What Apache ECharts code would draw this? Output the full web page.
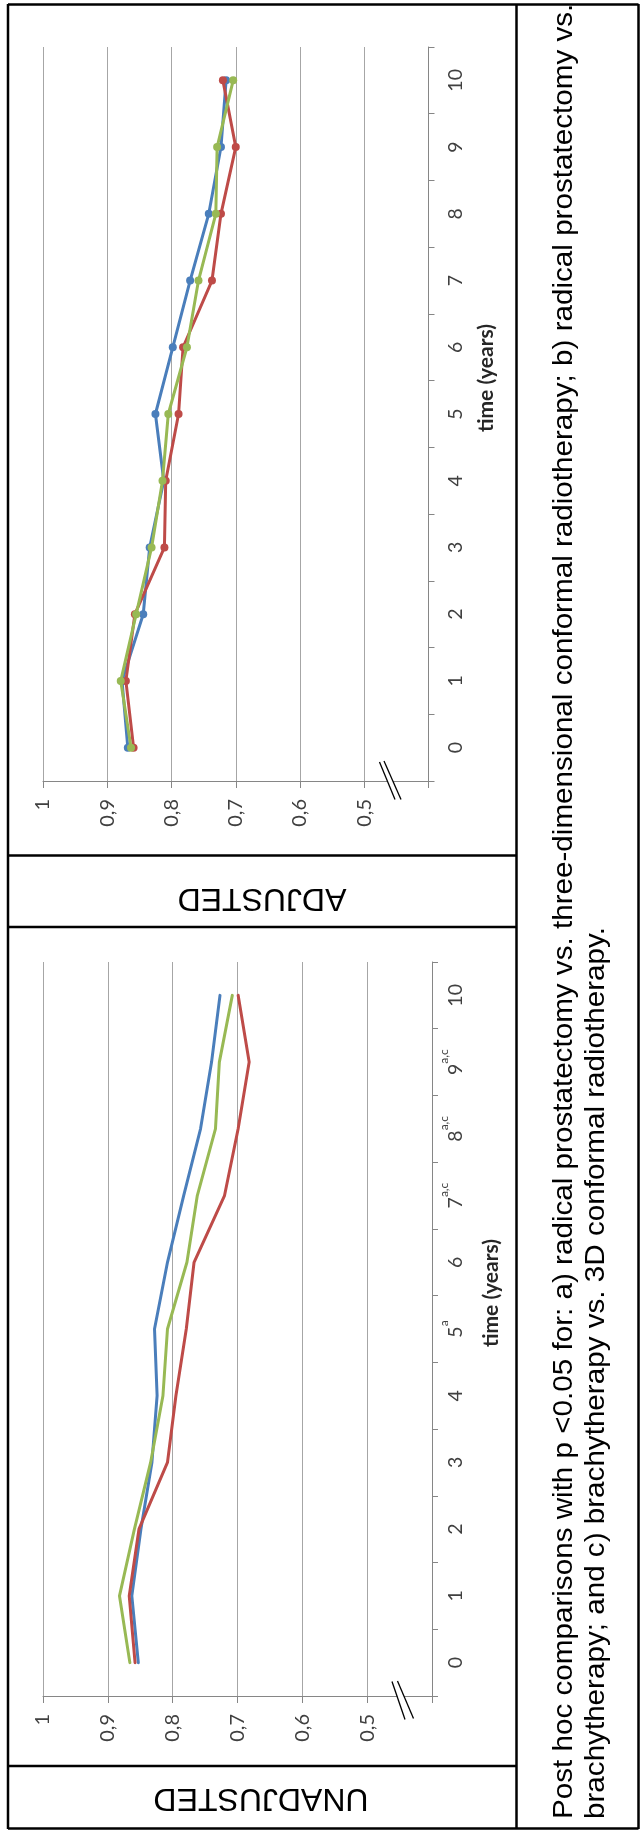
<!DOCTYPE html>
<html>
<head>
<meta charset="utf-8">
<script src="https://cdn.jsdelivr.net/npm/echarts@6/dist/echarts.min.js"></script>
<style>
html,body{margin:0;padding:0;background:#fff;}
#chart{width:641px;height:1830px;}
</style>
</head>
<body>
<div id="chart"></div>
<script>
// ---- data ----
const years = ['0','1','2','3','4','5','6','7','8','9','10'];
const unadjustedSup = ['','','','','','a','','a,c','a,c','a,c',''];
const valueTicks = [0.5, 0.6, 0.7, 0.8, 0.9, 1];
const seriesNames = ['Radical prostatectomy', 'Brachytherapy', '3D conformal radiotherapy'];

const adjustedBlue  = [0.868, 0.877, 0.844, 0.834, 0.812, 0.825, 0.798, 0.771, 0.742, 0.723, 0.715];
const adjustedRed   = [0.859, 0.871, 0.857, 0.811, 0.809, 0.789, 0.782, 0.737, 0.723, 0.700, 0.720];
const adjustedGreen = [0.863, 0.879, 0.855, 0.831, 0.814, 0.805, 0.776, 0.758, 0.731, 0.729, 0.704];

const unadjustedBlue  = [0.853, 0.863, 0.849, 0.832, 0.824, 0.828, 0.808, 0.783, 0.757, 0.740, 0.727];
const unadjustedRed   = [0.858, 0.867, 0.852, 0.808, 0.795, 0.779, 0.767, 0.720, 0.699, 0.682, 0.699];
const unadjustedGreen = [0.866, 0.882, 0.859, 0.834, 0.815, 0.808, 0.778, 0.762, 0.734, 0.728, 0.708];

const axisTitle = 'time (years)';
const panelLabels = ['ADJUSTED', 'UNADJUSTED'];
const captionLines = [
  'Post hoc comparisons with p <0.05 for: a) radical prostatectomy vs. three-dimensional conformal radiotherapy; b) radical prostatectomy vs.',
  'brachytherapy; and c) brachytherapy vs. 3D conformal radiotherapy.'
];

// ---- styles ----
const colors = ['#4A7EBB', '#BE4B48', '#98B954'];
const tickFont = 'Lato, "DejaVu Sans", sans-serif';
const arialFont = '"Liberation Sans", Arial, sans-serif';
const labelColor = '#404040';

function valueFmt(v) {
  const r = Math.round(v * 10) / 10;
  if (valueTicks.indexOf(r) < 0) return '';
  return String(r).replace('.', ',');
}

function valueAxis(gridIndex) {
  return {
    gridIndex, type: 'value', inverse: true, min: 0.4, max: 1, interval: 0.1,
    position: 'bottom',
    axisLine: { show: true, onZero: false, lineStyle: { color: '#868686', width: 1 } },
    axisTick: { show: true, length: 7, lineStyle: { color: '#868686' } },
    splitLine: { show: true, lineStyle: { color: '#a6a6a6', width: 1 } },
    axisLabel: { rotate: 90, margin: 18, fontSize: 20, fontFamily: tickFont, color: labelColor, formatter: valueFmt }
  };
}

function catAxis(gridIndex, sup, nameGap) {
  const lbl = sup
    ? {
        rotate: 90, margin: 10, interval: 0,
        formatter: (v, i) => '{n|' + v + '}' + (sup[i] ? '{s|' + sup[i] + '}' : ''),
        rich: {
          n: { fontSize: 19.5, fontFamily: tickFont, color: labelColor, lineHeight: 20, padding: [7, 0, 0, 0] },
          s: { fontSize: 12, fontFamily: tickFont, color: labelColor, lineHeight: 12, padding: [0, 0, 15, 0] }
        }
      }
    : { rotate: 90, margin: 17, interval: 0, fontSize: 19.5, fontFamily: tickFont, color: labelColor };
  return {
    gridIndex, type: 'category', data: years, position: 'right', boundaryGap: true,
    name: axisTitle, nameLocation: 'middle', nameRotate: 90, nameGap,
    nameTextStyle: { fontSize: 21, fontWeight: 'bold', fontFamily: tickFont, color: '#262626', padding: [0, 0, 0, 72] },
    axisLine: { show: true, onZero: false, lineStyle: { color: '#868686', width: 1 } },
    axisTick: { show: true, length: 6, alignWithLabel: false, interval: 0, lineStyle: { color: '#868686' } },
    splitLine: { show: false },
    axisLabel: lbl
  };
}

function lineSeries(name, data, idx, gridIdx, markers) {
  return {
    name, type: 'line', data, xAxisIndex: gridIdx, yAxisIndex: gridIdx,
    showSymbol: markers, symbol: markers ? 'circle' : 'none', symbolSize: 8,
    itemStyle: { color: colors[idx] },
    lineStyle: { color: colors[idx], width: 3, cap: 'round', join: 'round' },
    emphasis: { disabled: true }, z: 2 + idx
  };
}

const black = '#000';
function hline(x1, x2, y) { return { type: 'line', z: 100, shape: { x1, y1: y, x2, y2: y }, style: { stroke: black, lineWidth: 2.5 } }; }
function vline(x, y1, y2) { return { type: 'line', z: 100, shape: { x1: x, y1, x2: x, y2 }, style: { stroke: black, lineWidth: 2.5 } }; }
function breakMark(a1, a2, b1, b2) {
  return [
    { type: 'polygon', z: 100, shape: { points: [a1, b1, b2, a2] }, style: { fill: '#fff' } },
    { type: 'line', z: 101, shape: { x1: a1[0], y1: a1[1], x2: a2[0], y2: a2[1] }, style: { stroke: black, lineWidth: 1.3 } },
    { type: 'line', z: 101, shape: { x1: b1[0], y1: b1[1], x2: b2[0], y2: b2[1] }, style: { stroke: black, lineWidth: 1.3 } }
  ];
}
function panelText(x, y, t) {
  return { type: 'text', x, y, rotation: Math.PI, z: 100,
    style: { text: t, fontSize: 32, fontFamily: arialFont, lineHeight: 32, fill: black, align: 'center', verticalAlign: 'middle' } };
}

const graphics = [
  vline(8, 4, 1829), vline(638.5, 4, 1829), vline(516.5, 4, 1829),
  hline(8, 638.5, 4.5), hline(8, 638.5, 1828.5),
  hline(8, 516.5, 855.5), hline(8, 516.5, 927), hline(8, 516.5, 1766),
  ...breakMark([379.5, 762], [395, 799.5], [384, 761], [401, 799.5]),
  ...breakMark([392, 1681.5], [405, 1719.5], [397.5, 1681], [413.5, 1718.5]),
  panelText(262, 898, panelLabels[0]),
  panelText(261, 1798, panelLabels[1]),
  { type: 'text', x: 548.5, y: 1819, rotation: Math.PI / 2, scaleX: 1.058, z: 100,
    style: { text: captionLines.join('\n'), fontSize: 28, fontFamily: arialFont, lineHeight: 32, fill: black, align: 'left', verticalAlign: 'top' } }
];

const chart = echarts.init(document.getElementById('chart'), null, { renderer: 'canvas' });
chart.setOption({
  animation: false,
  backgroundColor: '#fff',
  grid: [
    { left: 43, top: 47, width: 385.5, height: 734, outerBoundsMode: 'none', containLabel: false },
    { left: 43, top: 962, width: 389, height: 734, outerBoundsMode: 'none', containLabel: false }
  ],
  xAxis: [valueAxis(0), valueAxis(1)],
  yAxis: [catAxis(0, null, 47), catAxis(1, unadjustedSup, 49)],
  series: [
    lineSeries(seriesNames[0], adjustedBlue, 0, 0, true),
    lineSeries(seriesNames[1], adjustedRed, 1, 0, true),
    lineSeries(seriesNames[2], adjustedGreen, 2, 0, true),
    lineSeries(seriesNames[0], unadjustedBlue, 0, 1, false),
    lineSeries(seriesNames[1], unadjustedRed, 1, 1, false),
    lineSeries(seriesNames[2], unadjustedGreen, 2, 1, false)
  ],
  graphic: { elements: graphics }
});
</script>
</body>
</html>
